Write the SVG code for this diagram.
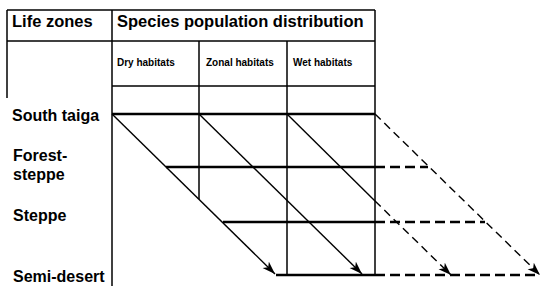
<svg xmlns="http://www.w3.org/2000/svg" width="550" height="294" viewBox="0 0 550 294">
<style>
.t{font-family:"Liberation Sans",Arial,sans-serif;font-weight:bold;fill:#000}
.big{font-size:16.5px}
.zone{font-size:16px}
.small{font-size:10px}
.grid{stroke:#000;stroke-width:1.5;fill:none}
.thick{stroke:#000;stroke-width:2.6;fill:none}
.thickd{stroke:#000;stroke-width:2.6;fill:none;stroke-dasharray:10 5}
.diag{stroke:#000;stroke-width:1.4;fill:none}
.diagd{stroke:#000;stroke-width:1.4;fill:none;stroke-dasharray:8 5}
</style>
<defs>
<marker id="ah" markerUnits="userSpaceOnUse" markerWidth="16" markerHeight="10" refX="13" refY="4.5" orient="auto">
<path d="M0,0 L13,4.5 L0,9 L3.5,4.5 Z" fill="#000"/>
</marker>
</defs>
<rect width="550" height="294" fill="#fff"/>
<g id="table">
<line class="grid" x1="7" y1="10" x2="375" y2="10"/>
<line class="grid" x1="7" y1="41" x2="375" y2="41"/>
<line class="grid" x1="112" y1="86" x2="375" y2="86"/>
<line class="grid" x1="7" y1="10" x2="7" y2="98"/>
<line class="grid" x1="112" y1="10" x2="112" y2="286"/>
<line class="grid" x1="199" y1="41" x2="199" y2="199"/>
<line class="grid" x1="287" y1="41" x2="287" y2="275"/>
<line class="grid" x1="375" y1="10" x2="375" y2="276"/>
</g>
<g id="labels">
<text class="t big" x="12" y="27">Life zones</text>
<text class="t big" x="117" y="27">Species population distribution</text>
<text class="t small" x="117" y="66">Dry habitats</text>
<text class="t small" x="206" y="66">Zonal habitats</text>
<text class="t small" x="293" y="66">Wet habitats</text>
<text class="t zone" x="12" y="121">South taiga</text>
<text class="t zone" x="13" y="161">Forest-</text>
<text class="t zone" x="13" y="180">steppe</text>
<text class="t zone" x="13" y="221">Steppe</text>
<text class="t zone" x="13" y="282">Semi-desert</text>
</g>
<g id="zone-lines">
<line class="thick" x1="112" y1="114" x2="375" y2="114"/>
<line class="thick" x1="166" y1="167" x2="375" y2="167"/>
<line class="thickd" x1="375" y1="167" x2="428" y2="167"/>
<line class="thick" x1="223" y1="222" x2="375" y2="222"/>
<line class="thickd" x1="375" y1="222" x2="485" y2="222"/>
<line class="thick" x1="276" y1="275" x2="375" y2="275"/>
<line class="thickd" x1="375" y1="275" x2="540" y2="275"/>
</g>
<g id="connectors">
<line class="diag" x1="112" y1="114" x2="275" y2="274" marker-end="url(#ah)"/>
<line class="diag" x1="199" y1="114" x2="362" y2="274" marker-end="url(#ah)"/>
<line class="diag" x1="287" y1="114" x2="375" y2="201"/>
<line class="diagd" x1="375" y1="201" x2="451" y2="275" marker-end="url(#ah)"/>
<line class="diagd" x1="375" y1="114" x2="540" y2="275" marker-end="url(#ah)"/>
</g>
</svg>
